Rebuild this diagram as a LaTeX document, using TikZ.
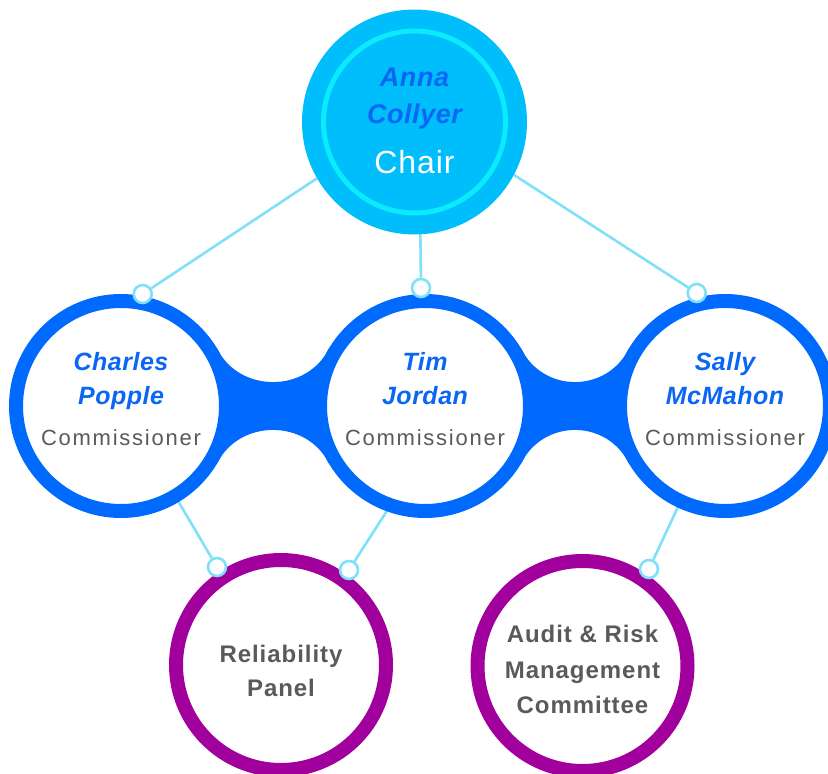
\documentclass[tikz,border=0pt]{standalone}
\usepackage{fontspec}
\setmainfont{Liberation Sans}
\usetikzlibrary{backgrounds}
\definecolor{ringblue}{HTML}{006AFF}
\definecolor{nameblue}{HTML}{0A66F5}
\definecolor{chairfill}{HTML}{00BDFC}
\definecolor{chairring}{HTML}{0AEBFF}
\definecolor{purp}{HTML}{A1009D}
\definecolor{graytxt}{HTML}{5A5A5A}
\definecolor{linkcyan}{HTML}{7FE0FA}
\tikzset{
  chairnode/.style={circle, fill=chairfill, minimum size=225pt, inner sep=0pt, outer sep=0pt},
  chairringnode/.style={circle, draw=chairring, line width=5pt, minimum size=182pt, inner sep=0pt},
  commnode/.style={circle, draw=ringblue, fill=white, line width=14pt, minimum size=210pt, inner sep=0pt, outer sep=7pt},
  subnode/.style={circle, draw=purp, fill=white, line width=14pt, minimum size=210pt, inner sep=0pt, outer sep=7pt},
  knob/.style={circle, draw=linkcyan, fill=white, line width=2.6pt, minimum size=18pt, inner sep=0pt, outer sep=1.3pt},
  link/.style={draw=linkcyan, line width=2.6pt},
  bridge/.style={fill=ringblue},
  topname/.style={anchor=base, text=nameblue, font=\fontsize{27}{32}\selectfont\bfseries\itshape\addfontfeature{LetterSpace=2}},
  chairtxt/.style={anchor=base, text=white, font=\fontsize{32}{38}\selectfont\addfontfeature{LetterSpace=3}},
  nametxt/.style={anchor=base, text=nameblue, font=\fontsize{25}{30}\selectfont\bfseries\itshape\addfontfeature{LetterSpace=2}},
  roletxt/.style={anchor=base, text=graytxt, font=\fontsize{22}{26}\selectfont\addfontfeature{LetterSpace=8}},
  subtxt/.style={anchor=base, text=graytxt, font=\fontsize{24}{29}\selectfont\bfseries\addfontfeature{LetterSpace=4}}
}
\begin{document}
\begin{tikzpicture}[x=1pt,y=-1pt]
\useasboundingbox (0,0) rectangle (828,774);
% main circles
\node[chairnode] (chair) at (414.5,122) {};
\node[chairringnode] (chairin) at (414.5,122) {};
\node[commnode] (c1) at (121,406) {};
\node[commnode] (c2) at (425,406) {};
\node[commnode] (c3) at (725,406) {};
\node[subnode] (p1) at (281,665) {};
\node[subnode] (p2) at (582.5,666) {};
% knobs
\node[knob] (s1) at (142.7,294) {};
\node[knob] (s2) at (421,288) {};
\node[knob] (s3) at (696.7,293) {};
\node[knob] (s4) at (217,567) {};
\node[knob] (s5) at (349,570) {};
\node[knob] (s6) at (649,569) {};
% bridges and links underneath
\begin{pgfonlayer}{background}
\fill[bridge] (c1.31) .. controls +(22,45) and +(-22,45) .. (c2.149) -- (c2.center) -- (c2.-149)
  .. controls +(-22,-45) and +(22,-45) .. (c1.-31) -- (c1.center) -- cycle;
\fill[bridge] (c2.31) .. controls +(22,45) and +(-22,45) .. (c3.149) -- (c3.center) -- (c3.-149)
  .. controls +(-22,-45) and +(22,-45) .. (c2.-31) -- (c2.center) -- cycle;
\draw[link] (s1) -- (chair.-150);
\draw[link] (s2) -- (chair.-87);
\draw[link] (s3) -- (chair.-28);
\draw[link] (s4) -- (c1.-59);
\draw[link] (s5) -- (c2.-110);
\draw[link] (s6) -- (c3.-115);
\end{pgfonlayer}
% texts
\node[topname] (t1) at (414.5,86) {Anna};
\node[topname] (t2) at (414.5,123) {Collyer};
\node[chairtxt] (t3) at (414.5,173) {Chair};
\node[nametxt] (a1) at (121,370) {Charles};
\node[nametxt] (a2) at (121,404) {Popple};
\node[roletxt] (a3) at (121,445) {Commissioner};
\node[nametxt] (b1) at (425,370) {Tim};
\node[nametxt] (b2) at (425,404) {Jordan};
\node[roletxt] (b3) at (425,445) {Commissioner};
\node[nametxt] (d1) at (725,370) {Sally};
\node[nametxt] (d2) at (725,404) {McMahon};
\node[roletxt] (d3) at (725,445) {Commissioner};
\node[subtxt] (r1) at (281,662) {Reliability};
\node[subtxt] (r2) at (281,696) {Panel};
\node[subtxt] (m1) at (582.5,642) {Audit \& Risk};
\node[subtxt] (m2) at (582.5,678) {Management};
\node[subtxt] (m3) at (582.5,713) {Committee};
\end{tikzpicture}
\end{document}
